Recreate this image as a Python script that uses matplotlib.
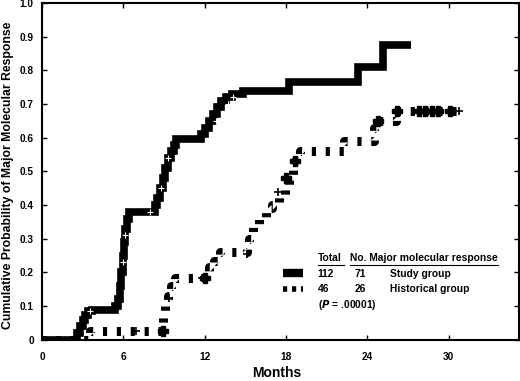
import numpy as np
import matplotlib
matplotlib.use('Agg')
import matplotlib.pyplot as plt

plt.rcParams['font.family'] = ['Liberation Sans', 'DejaVu Sans']
plt.rcParams['font.weight'] = 'bold'
plt.rcParams['lines.scale_dashes'] = False

# study group (cumulative probability of major molecular response, step curve)
study_t = [0, 2.6, 2.8, 3.0, 3.2, 3.4, 3.7, 5.4, 5.6, 5.75, 5.85, 5.95, 6.05, 6.15, 6.25, 6.4,
           8.3, 8.5, 8.7, 8.9, 9.1, 9.3, 9.5, 9.7, 9.9, 11.7, 12.0, 12.3, 12.6, 12.9, 13.2,
           13.6, 14.0, 14.8, 18.2, 23.3, 25.2, 27.2]
study_y = [0, 0.02, 0.04, 0.06, 0.075, 0.085, 0.09, 0.10, 0.12, 0.16, 0.20, 0.25, 0.29, 0.33, 0.36, 0.38,
           0.40, 0.42, 0.45, 0.48, 0.51, 0.54, 0.56, 0.58, 0.595, 0.61, 0.63, 0.65, 0.67, 0.69, 0.71,
           0.72, 0.73, 0.74, 0.765, 0.81, 0.875, 0.875]
study_cens_t = [3.5, 6.0, 6.1, 8.0, 8.8, 9.3, 12.8, 13.7, 14.1, 25.0]
study_cens_y = [0.085, 0.23, 0.31, 0.38, 0.45, 0.54, 0.65, 0.70, 0.72, 0.79]

# historical group
hist_t = [0, 3.5, 8.9, 9.1, 9.3, 9.5, 9.8, 12.3, 12.7, 13.1, 15.1, 15.3, 15.6, 16.0, 16.5,
          17.0, 17.5, 17.9, 18.2, 18.5, 18.7, 19.0, 22.3, 24.5, 24.7, 26.1, 31.0]
hist_y = [0, 0.025, 0.075, 0.10, 0.13, 0.16, 0.185, 0.215, 0.235, 0.26, 0.27, 0.30, 0.34, 0.36, 0.39,
          0.40, 0.43, 0.45, 0.48, 0.505, 0.53, 0.56, 0.59, 0.63, 0.65, 0.68, 0.68]
hist_cens_t = [8.9, 12.0, 18.0, 18.7, 24.8, 26.2, 27.8, 28.3, 28.8, 29.2, 30.1]
hist_cens_y = [0.025, 0.185, 0.48, 0.53, 0.65, 0.68, 0.68, 0.68, 0.68, 0.68, 0.68]
hist_thin_t = [6.9, 9.4, 11.8, 15.1, 17.4, 30.8]
hist_thin_y = [0.025, 0.125, 0.185, 0.255, 0.44, 0.68]

xticks = [0, 6, 12, 18, 24, 30]
yticks = [0, 0.1, 0.2, 0.3, 0.4, 0.5, 0.6, 0.7, 0.8, 0.9, 1.0]
ytick_labels = ['0', '0.1', '0.2', '0.3', '0.4', '0.5', '0.6', '0.7', '0.8', '0.9', '1.0']

fig = plt.figure(figsize=(5.2, 3.81), dpi=100)
ax = fig.add_axes([0.081, 0.108, 0.917, 0.884])

ax.step(hist_t, hist_y, where='post', color='black', lw=6.5, dashes=(3, 7),
        solid_capstyle='butt', dash_capstyle='butt')
ax.plot(hist_cens_t, hist_cens_y, 'P', color='black', ms=7, ls='none')
ax.plot(hist_thin_t, hist_thin_y, '+', color='black', ms=6, mew=1.2, ls='none')

ax.step(study_t, study_y, where='post', color='black', lw=5.5,
        solid_capstyle='butt', solid_joinstyle='miter')
ax.plot(study_cens_t, study_cens_y, '+', color='white', ms=4, mew=0.8, ls='none')

ax.set_xlim(0, 35.2)
ax.set_ylim(0, 1.0)
ax.set_xticks(xticks)
ax.set_yticks(yticks)
ax.set_yticklabels(ytick_labels)
ax.tick_params(direction='in', top=True, right=True, length=3.5, width=1, labelsize=7.3)
ax.tick_params(axis='x', pad=9)
ax.tick_params(axis='y', pad=6)
for s in ax.spines.values():
    s.set_linewidth(1.5)

ax.set_xlabel('Months', fontsize=10, fontweight='bold')
ax.xaxis.set_label_coords(0.493, -0.078)
ax.set_ylabel('Cumulative Probability of Major Molecular Response', fontsize=8.8,
              fontweight='bold')
ax.yaxis.set_label_coords(-0.058, 0.49)

# legend block
tr = ax.transAxes
ax.plot([0.505, 0.548], [0.199, 0.199], color='black', lw=6, transform=tr, solid_capstyle='butt')
ax.plot([0.505, 0.548], [0.152, 0.152], color='black', lw=4, dashes=(3, 3.5), transform=tr,
        dash_capstyle='butt')
fs = 7.4
ax.text(0.578, 0.243, 'Total', fontsize=fs, transform=tr, va='center')
ax.text(0.646, 0.243, 'No. Major molecular response', fontsize=fs, transform=tr, va='center')
ax.plot([0.578, 0.633], [0.222, 0.222], color='black', lw=0.8, transform=tr)
ax.plot([0.646, 0.955], [0.222, 0.222], color='black', lw=0.8, transform=tr)
ax.text(0.578, 0.197, '112', fontsize=fs, transform=tr, va='center')
ax.text(0.655, 0.197, '71', fontsize=fs, transform=tr, va='center')
ax.text(0.73, 0.197, 'Study group', fontsize=fs, transform=tr, va='center')
ax.text(0.578, 0.150, '46', fontsize=fs, transform=tr, va='center')
ax.text(0.655, 0.150, '26', fontsize=fs, transform=tr, va='center')
ax.text(0.73, 0.150, 'Historical group', fontsize=fs, transform=tr, va='center')
ax.text(0.578, 0.103, r'($\bf{\it{P}}$ = .00001)', fontsize=fs, transform=tr, va='center')

fig.savefig('out.png', dpi=100)
